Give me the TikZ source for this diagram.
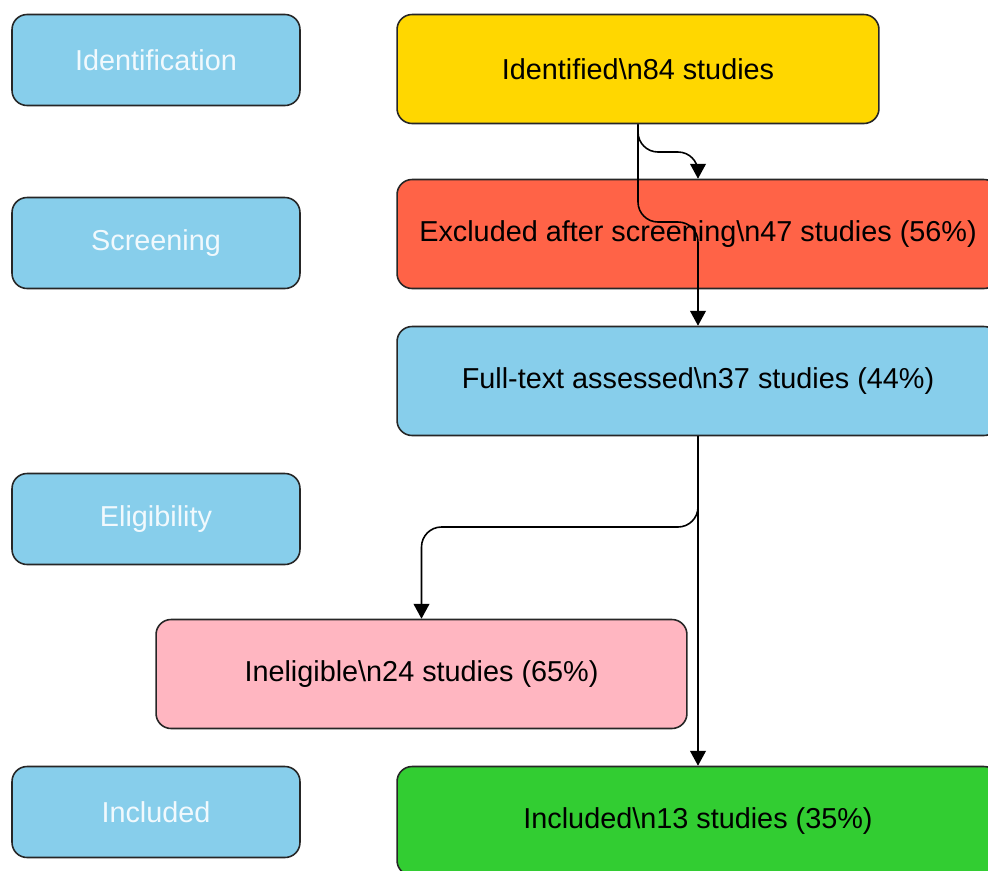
\documentclass[tikz,border=0pt]{standalone}
\usepackage{fontspec}
\setmainfont{Liberation Sans}
\usetikzlibrary{arrows.meta}
\definecolor{stageblue}{HTML}{87CEEB}
\definecolor{idgold}{HTML}{FFD700}
\definecolor{extomato}{HTML}{FF6347}
\definecolor{inpink}{HTML}{FFB6C1}
\definecolor{ingreen}{HTML}{32CD32}
\begin{document}
\begin{tikzpicture}[x=0.02cm,y=-0.02cm]
        \tikzstyle{box}=[rectangle, rounded corners=0.3cm, draw=black!85, line width=0.9pt, font=\fontsize{16.4}{19}\selectfont, minimum height=2.18cm, inner sep=0pt]
        \tikzstyle{stagebox}=[box, fill=stageblue, text=white!88!stageblue, minimum width=5.76cm, minimum height=1.82cm]
        \tikzstyle{widebox}=[box, minimum width=12.04cm]
        \tikzstyle{flow}=[-{Triangle[width=9pt,length=8.5pt]}, line width=0.9pt, rounded corners=0.4cm]
        \useasboundingbox (0,0) rectangle (988,870);
        \foreach \name/\y/\txt in {identification/60/Identification, screening/243/Screening, eligibility/519/Eligibility, included/812/Included}
            \node[stagebox] (\name) at (156,\y) {\txt};
        \node[box, fill=idgold, minimum width=9.64cm] (identified) at (638,69) {Identified\textbackslash n84 studies};
        \node[widebox, fill=extomato] (excluded) at (698,234) {Excluded after screening\textbackslash n47 studies (56\%)};
        \node[widebox, fill=stageblue] (fulltext) at (698,381) {Full-text assessed\textbackslash n37 studies (44\%)};
        \node[box, fill=inpink, minimum width=10.62cm] (ineligible) at (421.5,674) {Ineligible\textbackslash n24 studies (65\%)};
        \node[widebox, fill=ingreen] (includedbox) at (698,821) {Included\textbackslash n13 studies (35\%)};
        \draw[flow] (identified.south) -- (638,152) -| (excluded.north);
        \draw[flow] (identified.south) -- (638,222) -| (fulltext.north);
        \draw[flow] (fulltext.south) -- (698,527) -| (ineligible.north);
        \draw[flow] (fulltext.south) -- (includedbox.north);
      \end{tikzpicture}
\end{document}
